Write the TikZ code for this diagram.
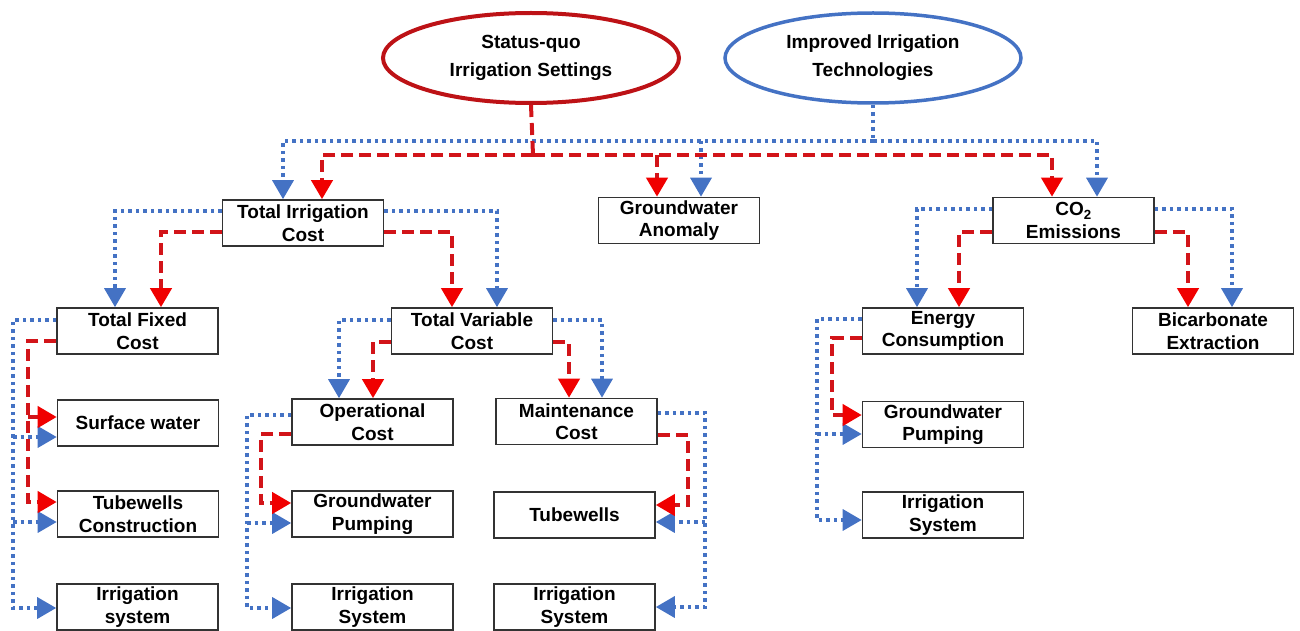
\documentclass[tikz,border=0pt]{standalone}
\usepackage{fontspec}
\setmainfont{Liberation Sans}
\usetikzlibrary{arrows.meta,shapes.geometric}
\definecolor{myred}{RGB}{210,20,25}
\definecolor{tipred}{RGB}{240,0,0}
\definecolor{myblue}{RGB}{68,114,196}
\tikzset{
 box/.style={draw=black!80, line width=1.6pt, minimum width=161pt, minimum height=46pt, inner sep=0pt, align=center, font=\bfseries\fontsize{19}{22.5}\selectfont, fill=white},
 oval/.style={ellipse, draw, line width=4pt, minimum width=296pt, minimum height=90pt, inner sep=0pt, align=center, font=\bfseries\fontsize{19}{28}\selectfont},
 rline/.style={myred, line width=4pt, dash pattern=on 12pt off 6pt},
 bline/.style={myblue, line width=3.5pt, dash pattern=on 3.5pt off 4pt},
 rl/.style={rline, -{Triangle[length=19pt,width=21pt,color=tipred,fill=tipred]}},
 bl/.style={bline, -{Triangle[length=19pt,width=21pt]}},
}
\begin{document}
\begin{tikzpicture}[x=1pt,y=-1pt]
\useasboundingbox (0,0) rectangle (1300,631);
% ellipses
\node[oval, draw=myred!90!black] (SQ) at (531,58) {Status-quo\\Irrigation Settings};
\node[oval, draw=myblue, line width=3.5pt] (IT) at (873,58) {Improved Irrigation\\Technologies};
% boxes
\node[box] (TIC) at (303,223) {Total Irrigation\\Cost};
\node[box] (GA) at (679,220.5) {Groundwater\\Anomaly};
\node[box] (CO2) at (1073.5,220.5) {CO$_{\mathbf 2}$\\Emissions};
\node[box] (TFC) at (137.5,331) {Total Fixed\\Cost};
\node[box] (TVC) at (472,331) {Total Variable\\Cost};
\node[box] (EC) at (943,331) {Energy\\Consumption};
\node[box] (BE) at (1213,331) {Bicarbonate\\Extraction};
\node[box] (SW) at (138,423) {Surface water};
\node[box] (TC) at (138,514) {Tubewells\\Construction};
\node[box] (ISL) at (137.5,607) {Irrigation\\system};
\node[box] (OC) at (372.5,422) {Operational\\Cost};
\node[box] (GPM) at (372.5,514) {Groundwater\\Pumping};
\node[box] (ISM) at (372.5,607) {Irrigation\\System};
\node[box] (MC) at (576.5,421.5) {Maintenance\\Cost};
\node[box] (TW) at (574.5,515) {Tubewells};
\node[box] (ISR) at (574.5,607) {Irrigation\\System};
\node[box] (GPR) at (943,424.5) {Groundwater\\Pumping};
\node[box] (ISRR) at (943,515) {Irrigation\\System};
% top trunks
\coordinate (rt) at (533,155);
\coordinate (bt) at (873,141);
\draw[bline] (IT.south) -- (bt);
\draw[bl] (bt) -| (TIC.north -| 283,0);
\draw[bl] (bt) -| (CO2.north -| 1097,0);
\draw[bl] (701,141) -- (GA.north -| 701,0);
\draw[rline] (SQ.south) -- (rt);
\draw[rl] (rt) -| (TIC.north -| 322,0);
\draw[rl] (rt) -| (CO2.north -| 1052,0);
\draw[rl] (657,155) -- (GA.north -| 657,0);
% TIC
\draw[bl] (TIC.west |- 0,211) -| (TFC.north -| 115,0);
\draw[rl] (TIC.west |- 0,232) -| (TFC.north -| 161,0);
\draw[rl] (TIC.east |- 0,232) -| (TVC.north -| 452,0);
\draw[bl] (TIC.east |- 0,211) -| (TVC.north -| 497,0);
% TFC
\draw[bl] (TFC.west |- 0,320) -- (13,320) -- (13,608) -- (ISL.west |- 0,608);
\draw[bl] (13,437) -- (SW.west |- 0,437);
\draw[bl] (13,522) -- (TC.west |- 0,522);
\draw[rl] (TFC.west |- 0,341) -- (28,341) -- (28,502) -- (TC.west |- 0,502);
\draw[rl] (28,417) -- (SW.west |- 0,417);
% TVC
\draw[bl] (TVC.west |- 0,320) -| (OC.north -| 339,0);
\draw[rl] (TVC.west |- 0,342) -| (OC.north -| 373,0);
\draw[bl] (TVC.east |- 0,320) -| (MC.north -| 602,0);
\draw[rl] (TVC.east |- 0,342) -| (MC.north -| 569,0);
% OC
\draw[bl] (OC.west |- 0,415) -- (247,415) -- (247,608) -- (ISM.west |- 0,608);
\draw[bl] (247,523) -- (GPM.west |- 0,523);
\draw[rl] (OC.west |- 0,434) -- (261,434) -- (261,503) -- (GPM.west |- 0,503);
% MC
\draw[bl] (MC.east |- 0,413) -- (705,413) -- (705,607) -- (ISR.east |- 0,607);
\draw[bl] (705,522) -- (TW.east |- 0,522);
\draw[rl] (MC.east |- 0,435) -- (688,435) -- (688,505) -- (TW.east |- 0,505);
% CO2
\draw[bl] (CO2.west |- 0,209) -| (EC.north -| 917,0);
\draw[rl] (CO2.west |- 0,232) -| (EC.north -| 959,0);
\draw[rl] (CO2.east |- 0,232) -| (BE.north -| 1188,0);
\draw[bl] (CO2.east |- 0,209) -| (BE.north -| 1232,0);
% EC
\draw[bl] (EC.west |- 0,319) -- (817,319) -- (817,520) -- (ISRR.west |- 0,520);
\draw[bl] (817,434) -- (GPR.west |- 0,434);
\draw[rl] (EC.west |- 0,338) -- (832,338) -- (832,415) -- (GPR.west |- 0,415);
\end{tikzpicture}
\end{document}
